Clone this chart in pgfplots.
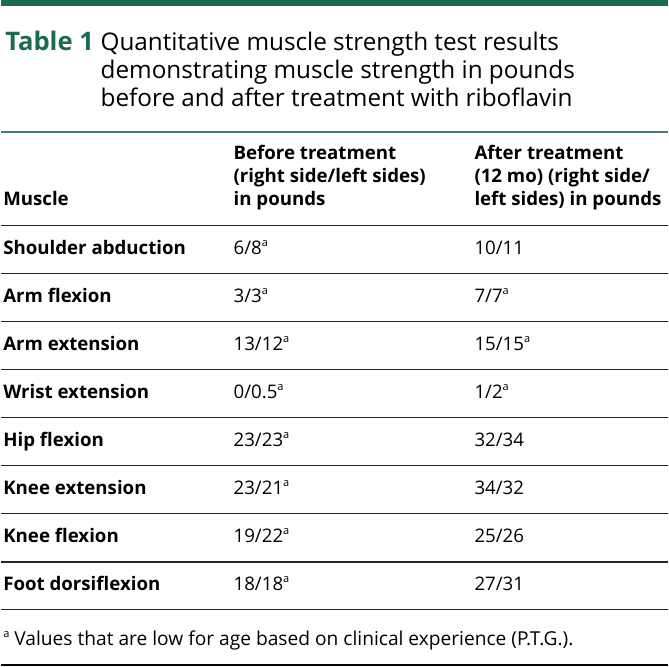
\documentclass[border=0pt]{standalone}
\usepackage{pgfplots}
\pgfplotsset{compat=1.18}
\usepackage{fontspec}
\setmainfont{Open Sans}
\definecolor{jgreen}{HTML}{1C6B4E}
\definecolor{rulegreen}{HTML}{4E7D66}
\newcommand{\body}{\fontsize{18.6bp}{22bp}\selectfont}
\newcommand{\ttl}{\fontsize{24.2bp}{28bp}\selectfont}
\newcommand{\supa}{\raisebox{0.45em}{\fontsize{11bp}{12bp}\selectfont a}}
\tikzset{tx/.style={anchor=base west, inner sep=0pt, outer sep=0pt}}
\begin{document}
\begin{tikzpicture}
\begin{axis}[
  hide axis, scale only axis, width=664bp, height=669bp,
  xmin=0, xmax=664, ymin=0, ymax=669, y dir=reverse, clip=false
]
% top band
\addplot[fill=jgreen, draw=none] coordinates {(0,0) (664,0) (664,6.3) (0,6.3)} -- cycle;
% rules
\addplot[rulegreen, line width=1.3bp] coordinates {(0,131.5) (664,131.5)};
\addplot[black!85, line width=1.3bp] coordinates {(0,225) (664,225)};
\addplot[black!85, line width=1.2bp] coordinates {(0,272.5) (664,272.5)};
\addplot[black!85, line width=1.2bp] coordinates {(0,320.3) (664,320.3)};
\addplot[black!85, line width=1.2bp] coordinates {(0,368.1) (664,368.1)};
\addplot[black!85, line width=1.2bp] coordinates {(0,415.9) (664,415.9)};
\addplot[black!85, line width=1.2bp] coordinates {(0,463.7) (664,463.7)};
\addplot[black!85, line width=1.2bp] coordinates {(0,511.9) (664,511.9)};
\addplot[black!85, line width=1.2bp] coordinates {(0,559.9) (664,559.9)};
\addplot[black!85, line width=1.2bp] coordinates {(0,607.6) (664,607.6)};
\addplot[black, line width=2.6bp] coordinates {(0,662.5) (664,662.5)};
% title
\node[tx] at (axis cs:4,50) {\fontsize{25.5bp}{28bp}\selectfont\bfseries\color{jgreen}Table 1};
\node[tx] at (axis cs:99,50) {\ttl Quantitative muscle strength test results};
\node[tx] at (axis cs:99,78) {\ttl demonstrating muscle strength in pounds};
\node[tx] at (axis cs:99,106) {\ttl before and after treatment with riboflavin};
% header
\node[tx] at (axis cs:2,205) {\body\bfseries Muscle};
\node[tx] at (axis cs:231.5,158.5) {\body\bfseries Before treatment};
\node[tx] at (axis cs:231.5,181.8) {\body\bfseries (right side/left sides)};
\node[tx] at (axis cs:231.5,205) {\body\bfseries in pounds};
\node[tx] at (axis cs:471.5,158.5) {\body\bfseries After treatment};
\node[tx] at (axis cs:471.5,181.8) {\body\bfseries (12 mo) (right side/};
\node[tx] at (axis cs:471.5,205) {\body\bfseries left sides) in pounds};
% rows
\node[tx] at (axis cs:2,254) {\body\bfseries Shoulder abduction};
\node[tx] at (axis cs:231.5,254) {\body 6/8\supa};
\node[tx] at (axis cs:471.5,254) {\body 10/11};
\node[tx] at (axis cs:2,301.8) {\body\bfseries Arm flexion};
\node[tx] at (axis cs:231.5,301.8) {\body 3/3\supa};
\node[tx] at (axis cs:471.5,301.8) {\body 7/7\supa};
\node[tx] at (axis cs:2,349.6) {\body\bfseries Arm extension};
\node[tx] at (axis cs:231.5,349.6) {\body 13/12\supa};
\node[tx] at (axis cs:471.5,349.6) {\body 15/15\supa};
\node[tx] at (axis cs:2,397.4) {\body\bfseries Wrist extension};
\node[tx] at (axis cs:231.5,397.4) {\body 0/0.5\supa};
\node[tx] at (axis cs:471.5,397.4) {\body 1/2\supa};
\node[tx] at (axis cs:2,445.2) {\body\bfseries Hip flexion};
\node[tx] at (axis cs:231.5,445.2) {\body 23/23\supa};
\node[tx] at (axis cs:471.5,445.2) {\body 32/34};
\node[tx] at (axis cs:2,493.0) {\body\bfseries Knee extension};
\node[tx] at (axis cs:231.5,493.0) {\body 23/21\supa};
\node[tx] at (axis cs:471.5,493.0) {\body 34/32};
\node[tx] at (axis cs:2,540.8) {\body\bfseries Knee flexion};
\node[tx] at (axis cs:231.5,540.8) {\body 19/22\supa};
\node[tx] at (axis cs:471.5,540.8) {\body 25/26};
\node[tx] at (axis cs:2,588.6) {\body\bfseries Foot dorsiflexion};
\node[tx] at (axis cs:231.5,588.6) {\body 18/18\supa};
\node[tx] at (axis cs:471.5,588.6) {\body 27/31};
% footnote
\node[tx] at (axis cs:2,643.5) {\fontsize{19.1bp}{22bp}\selectfont\raisebox{0.42em}{\fontsize{11bp}{12bp}\selectfont a} Values that are low for age based on clinical experience (P.T.G.).};
\end{axis}
\end{tikzpicture}
\end{document}
